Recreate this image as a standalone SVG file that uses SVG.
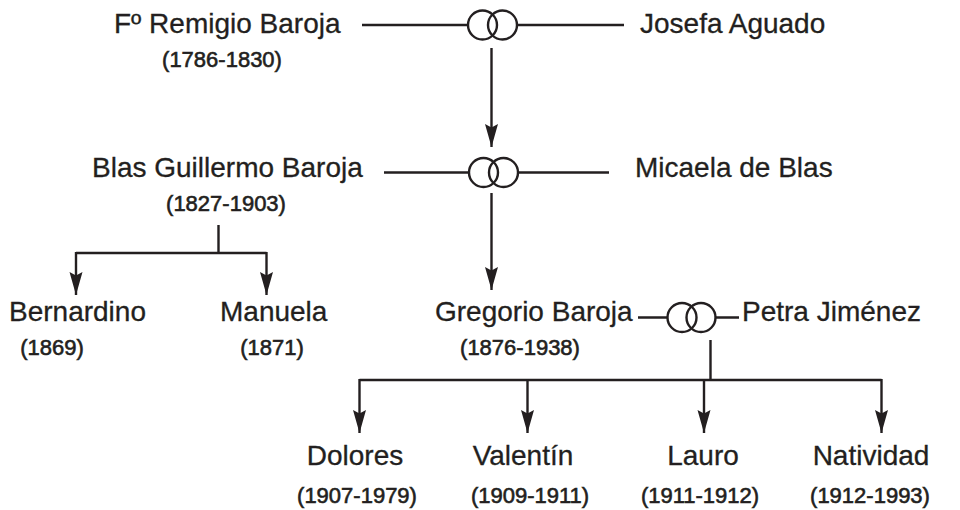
<svg xmlns="http://www.w3.org/2000/svg" width="960" height="510" viewBox="0 0 960 510">
<style>
.name{font-family:"Liberation Sans",Arial,sans-serif;font-size:28px;fill:#231f20;stroke:#231f20;stroke-width:0.3}
.date{font-family:"Liberation Sans",Arial,sans-serif;font-size:22px;fill:#231f20;stroke:#231f20;stroke-width:0.6}
.ln{fill:none;stroke:#231f20;stroke-width:2.4}
.ring{fill:none;stroke:#231f20;stroke-width:2.4}
</style>
<defs>
<marker id="arr" markerUnits="userSpaceOnUse" markerWidth="26" markerHeight="16" refX="0" refY="0" viewBox="-24 -8 26 16" orient="auto" overflow="visible">
<path d="M0,0 L-23,-6.5 L-19.5,0 L-23,6.5 Z" fill="#231f20"/>
</marker>
</defs>
<rect width="960" height="510" fill="#ffffff"/>

<g id="connectors">
<path class="ln" d="M362,25 H468 M517,25 H624"/>
<path class="ln" d="M491.5,48 V147" marker-end="url(#arr)"/>
<path class="ln" d="M384,172.5 H469 M518,172.5 H609"/>
<path class="ln" d="M491.5,193 V290" marker-end="url(#arr)"/>
<path class="ln" d="M218.5,225 V253 M76,253 H266.5"/>
<path class="ln" d="M76,252 V295" marker-end="url(#arr)"/>
<path class="ln" d="M266.5,252 V295" marker-end="url(#arr)"/>
<path class="ln" d="M638,317.5 H667 M716,317.5 H739"/>
<path class="ln" d="M710.5,340 V380 M359.5,380 H881.5"/>
<path class="ln" d="M359.5,379 V433" marker-end="url(#arr)"/>
<path class="ln" d="M527.5,379 V433" marker-end="url(#arr)"/>
<path class="ln" d="M704,379 V433" marker-end="url(#arr)"/>
<path class="ln" d="M881.5,379 V433" marker-end="url(#arr)"/>
</g>

<g id="union1"><circle class="ring" cx="482.5" cy="25" r="14.5"/><circle class="ring" cx="502.5" cy="25" r="14.5"/></g>
<g id="union2"><circle class="ring" cx="483.5" cy="172.5" r="14.5"/><circle class="ring" cx="503.5" cy="172.5" r="14.5"/></g>
<g id="union3"><circle class="ring" cx="682" cy="317.5" r="14.5"/><circle class="ring" cx="701" cy="317.5" r="14.5"/></g>

<g id="remigio"><text class="name" x="114" y="33">Fº Remigio Baroja</text><text class="date" x="222" y="67" text-anchor="middle">(1786-1830)</text></g>
<g id="josefa"><text class="name" x="640" y="33">Josefa Aguado</text></g>
<g id="blas"><text class="name" x="92" y="177">Blas Guillermo Baroja</text><text class="date" x="226" y="211" text-anchor="middle">(1827-1903)</text></g>
<g id="micaela"><text class="name" x="635" y="177">Micaela de Blas</text></g>
<g id="bernardino"><text class="name" x="9" y="321">Bernardino</text><text class="date" x="52" y="355" text-anchor="middle">(1869)</text></g>
<g id="manuela"><text class="name" x="220" y="321">Manuela</text><text class="date" x="272" y="355" text-anchor="middle">(1871)</text></g>
<g id="gregorio"><text class="name" x="435" y="321">Gregorio Baroja</text><text class="date" x="520" y="355" text-anchor="middle">(1876-1938)</text></g>
<g id="petra"><text class="name" x="742" y="321">Petra Jiménez</text></g>
<g id="dolores"><text class="name" x="355" y="465" text-anchor="middle">Dolores</text><text class="date" x="357" y="503" text-anchor="middle">(1907-1979)</text></g>
<g id="valentin"><text class="name" x="523" y="465" text-anchor="middle">Valentín</text><text class="date" x="530" y="503" text-anchor="middle">(1909-1911)</text></g>
<g id="lauro"><text class="name" x="703" y="465" text-anchor="middle">Lauro</text><text class="date" x="700" y="503" text-anchor="middle">(1911-1912)</text></g>
<g id="natividad"><text class="name" x="871" y="465" text-anchor="middle">Natividad</text><text class="date" x="870" y="503" text-anchor="middle">(1912-1993)</text></g>
</svg>
